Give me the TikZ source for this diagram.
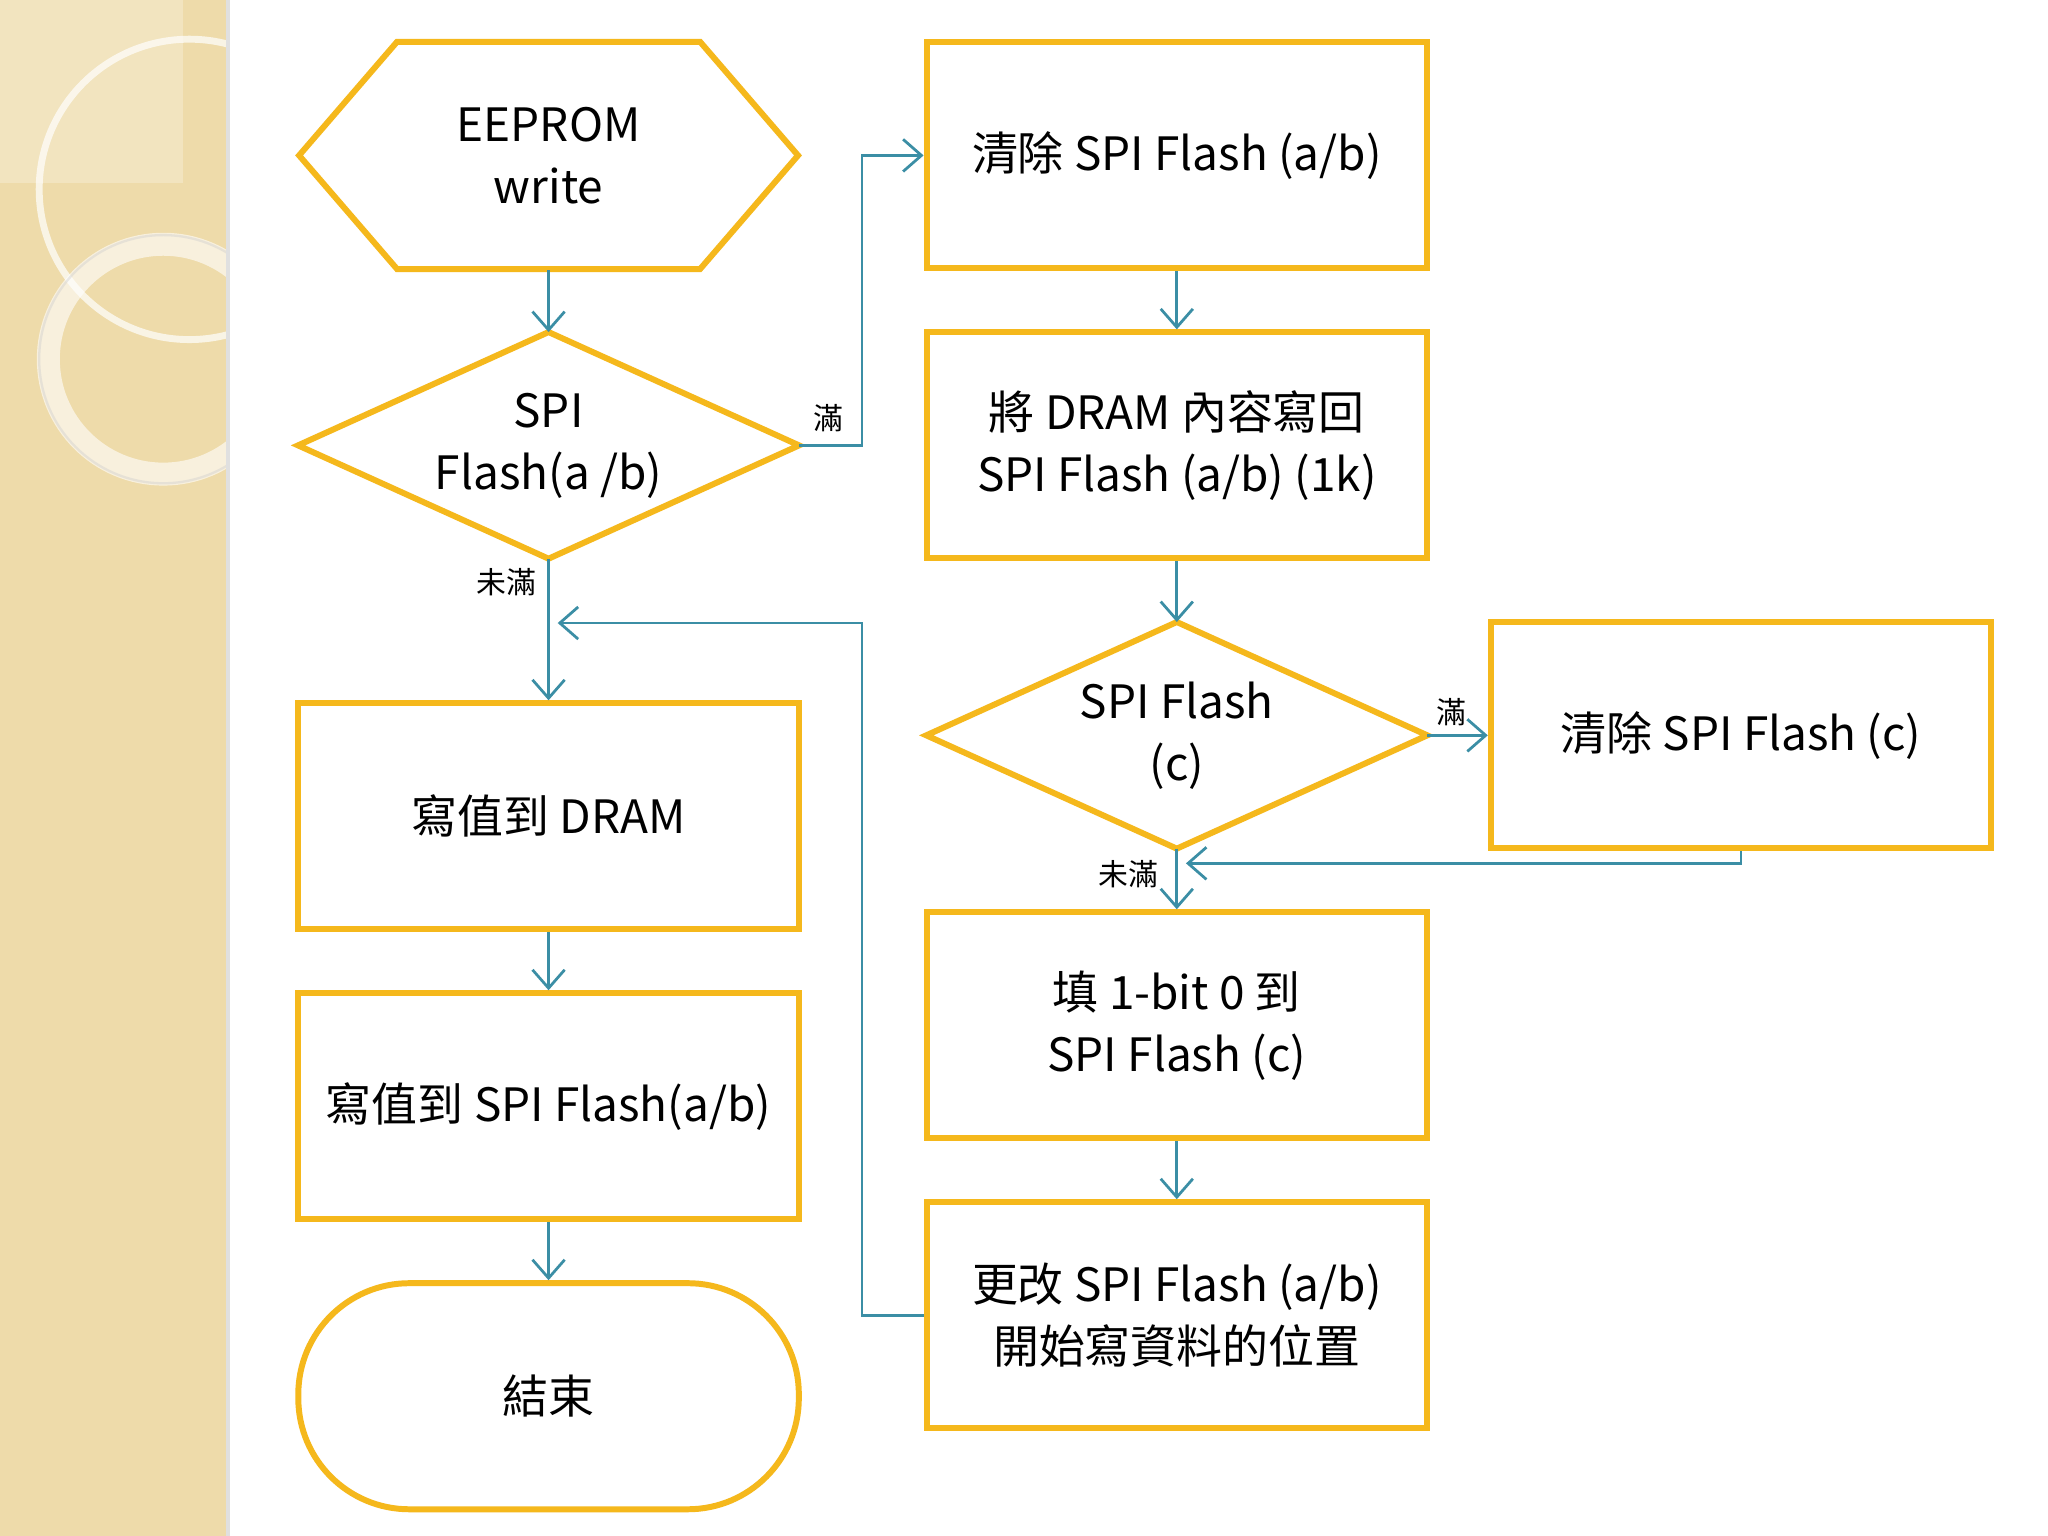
\documentclass[tikz,border=0pt]{standalone}
\usepackage{fontspec}
\setmainfont{Noto Sans CJK TC}
\usetikzlibrary{shapes.geometric,shapes.misc,arrows.meta}
\definecolor{org}{HTML}{F5B81C}
\definecolor{tea}{HTML}{3B8EA5}
\definecolor{beige}{HTML}{EEDBAA}
\begin{document}
\begin{tikzpicture}[x=0.01cm,y=-0.01cm,
 bx/.style={draw=org,line width=1.3pt,rectangle,minimum width=3.83cm,minimum height=1.73cm,align=center,font=\fontsize{10}{13.5}\selectfont,inner sep=0pt},
 dia/.style={rectangle,minimum width=3.82cm,minimum height=1.72cm,align=center,inner sep=0pt,font=\fontsize{10}{13.5}\selectfont},
 ar/.style={draw=tea,line width=0.6pt,-{Straight Barb[length=4pt,width=7pt]}},
 lab/.style={font=\fontsize{6.5}{8}\selectfont,inner sep=0pt}]
\useasboundingbox (0,0) rectangle (1568,1176);
\fill[white] (0,0) rectangle (1568,1176);
\begin{scope}
\clip (0,0) rectangle (173,1176);
\fill[beige] (0,0) rectangle (173,1176);
\fill[white,opacity=0.25] (0,0) rectangle (140,140);
\draw[white,opacity=0.7,line width=1.5pt] (145,145) circle (115);
\draw[white,opacity=0.6,line width=5pt] (125,275) circle (88);
\draw[black!20,opacity=0.4,line width=0.5pt] (125,275) circle (95);
\end{scope}
\fill[black!12] (173,0) rectangle (176,1176);
% left column
\node[dia,minimum height=1.74cm] (hex) at (420,119) {EEPROM\\write};
\draw[org,line width=1.3pt] (229,119)--(304,32)--(536,32)--(611,119)--(536,206)--(304,206)--cycle;
\node[dia] (d1) at (420,341) {SPI\\Flash(a /b)};
\draw[org,line width=1.3pt] (d1.west)--(d1.north)--(d1.east)--(d1.south)--cycle;
\node[bx] (b1) at (420,625) {寫值到 DRAM};
\node[bx] (b2) at (420,847) {寫值到 SPI Flash(a/b)};
\node[draw=org,line width=1.3pt,rounded corners=0.85cm,minimum width=3.83cm,minimum height=1.73cm,font=\fontsize{10}{13.5}\selectfont] (end) at (420,1069) {結束};
% right column
\node[bx] (r1) at (901,119) {清除 SPI Flash (a/b)};
\node[bx] (r2) at (901,341) {將 DRAM 內容寫回\\SPI Flash (a/b) (1k)};
\node[dia] (d2) at (901,563) {SPI Flash\\(c)};
\draw[org,line width=1.3pt] (d2.west)--(d2.north)--(d2.east)--(d2.south)--cycle;
\node[bx] (r3) at (901,785) {填 1-bit 0 到\\SPI Flash (c)};
\node[bx] (r4) at (901,1007) {更改 SPI Flash (a/b)\\開始寫資料的位置};
\node[bx] (c1) at (1333,563) {清除 SPI Flash (c)};
% connectors
\coordinate (j1) at (420,477);
\coordinate (j2) at (901,661);
\draw[ar] (hex.south) -- (d1.north);
\draw[ar] (d1.east) -| (660,119) -- (r1.west);
\draw[ar] (d1.south) -- (b1.north);
\draw[ar] (b1) -- (b2);
\draw[ar] (b2) -- (end);
\draw[ar] (r1) -- (r2);
\draw[ar] (r2.south) -- (d2.north);
\draw[ar] (d2.east) -- (c1.west);
\draw[ar] (d2.south) -- (r3.north);
\draw[ar] (r3) -- (r4);
\draw[ar] (r4.west) -- (660,1007) -- (660,477) -- ([xshift=0.07cm]j1);
\draw[ar] (c1.south) -- (1333,661) -- ([xshift=0.07cm]j2);
\node[lab] at (634,320) {滿};
\node[lab] at (388,446) {未滿};
\node[lab] at (1111,545) {滿};
\node[lab] at (864,669) {未滿};
\end{tikzpicture}
\end{document}
